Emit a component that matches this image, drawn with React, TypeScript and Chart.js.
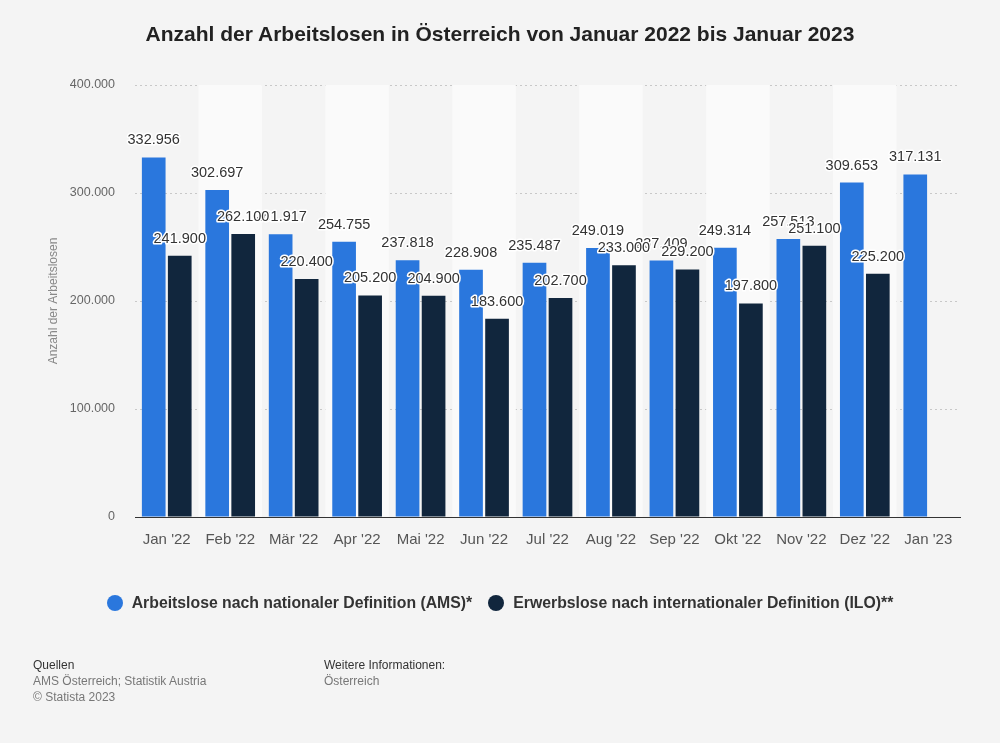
import React, { useEffect, useRef } from "react";
import { Chart, registerables } from "chart.js";

Chart.register(...registerables);

const categories = ["Jan '22", "Feb '22", "Mär '22", "Apr '22", "Mai '22", "Jun '22", "Jul '22", "Aug '22", "Sep '22", "Okt '22", "Nov '22", "Dez '22", "Jan '23"];
const amsValues = [332956, 302697, 261917, 254755, 237818, 228908, 235487, 249019, 237409, 249314, 257513, 309653, 317131];
const iloValues: (number | null)[] = [241900, 262100, 220400, 205200, 204900, 183600, 202700, 233000, 229200, 197800, 251100, 225200, null];
const seriesNames = ["Arbeitslose nach nationaler Definition (AMS)*", "Erwerbslose nach internationaler Definition (ILO)**"];
const seriesColors = ["#2a77dd", "#11263d"];
const yTicks = [0, 100000, 200000, 300000, 400000];

const FONT = "'Liberation Sans', Arial, sans-serif";
const fmt = (v: number) => v.toLocaleString("de-DE");

const bandsPlugin = {
  id: "bands",
  beforeDatasetsDraw(chart: any) {
    const { ctx, chartArea, scales } = chart;
    const xs = scales.x;
    ctx.save();
    ctx.fillStyle = "#fafafa";
    for (let i = 1; i < categories.length; i += 2) {
      const c = xs.getPixelForValue(i);
      const half = (xs.getPixelForValue(1) - xs.getPixelForValue(0)) / 2;
      ctx.fillRect(c - half, chartArea.top, half * 2, chartArea.bottom - chartArea.top);
    }
    ctx.restore();
  },
};

const labelsPlugin = {
  id: "valueLabels",
  afterDatasetsDraw(chart: any) {
    const { ctx } = chart;
    ctx.save();
    ctx.font = `14.5px ${FONT}`;
    ctx.textAlign = "center";
    ctx.textBaseline = "middle";
    ctx.lineJoin = "round";
    chart.data.datasets.forEach((ds: any, di: number) => {
      const meta = chart.getDatasetMeta(di);
      meta.data.forEach((el: any, i: number) => {
        const v = ds.data[i];
        if (v == null) return;
        const txt = fmt(v);
        ctx.lineWidth = 3;
        ctx.strokeStyle = "#ffffff";
        ctx.strokeText(txt, el.x, el.y - 17);
        ctx.fillStyle = "#333333";
        ctx.fillText(txt, el.x, el.y - 17);
      });
    });
    ctx.restore();
  },
};

export default function App() {
  const ref = useRef<HTMLCanvasElement>(null);
  useEffect(() => {
    const chart = new Chart(ref.current!, {
      type: "bar",
      data: {
        labels: categories,
        datasets: [
          { label: seriesNames[0], data: amsValues, backgroundColor: seriesColors[0], barPercentage: 0.91, categoryPercentage: 0.82 },
          { label: seriesNames[1], data: iloValues, backgroundColor: seriesColors[1], barPercentage: 0.91, categoryPercentage: 0.82 },
        ],
      },
      options: {
        animation: false,
        responsive: false,
        maintainAspectRatio: false,
        layout: { padding: { left: 46, right: 40, top: 85, bottom: 186 } },
        plugins: { legend: { display: false }, tooltip: { enabled: false } },
        scales: {
          x: {
            grid: { display: false, drawTicks: false },
            border: { display: true, color: "#333333", width: 1 },
            ticks: { color: "#555555", font: { family: FONT, size: 15 }, padding: 14 },
            afterFit: (s: any) => { s.height = 40; },
          },
          y: {
            min: 0,
            max: 400000,
            afterBuildTicks: (s: any) => { s.ticks = yTicks.map((v) => ({ value: v })); },
            grid: { color: "#c8c8c8", drawTicks: false, lineWidth: 1 },
            border: { display: false, dash: [2, 3] },
            ticks: { color: "#666666", font: { family: FONT, size: 12.5 }, padding: 20, callback: (v: any) => fmt(Number(v)) },
            title: { display: true, text: "Anzahl der Arbeitslosen", color: "#888888", font: { family: FONT, size: 12 }, padding: 0 },
            afterFit: (s: any) => { s.width = 89; },
          },
        },
      },
      plugins: [bandsPlugin, labelsPlugin],
    });
    return () => chart.destroy();
  }, []);

  return (
    <div style={{ position: "absolute", left: 0, top: 0, width: 1000, height: 743, background: "#f4f4f4", overflow: "hidden", fontFamily: FONT }}>
      <canvas ref={ref} width={1000} height={743} style={{ position: "absolute", left: 0, top: 0, width: 1000, height: 743 }} />
      <div style={{ position: "absolute", left: 0, top: 22, width: 1000, textAlign: "center", fontWeight: "bold", fontSize: 21, color: "#222" }}>
        Anzahl der Arbeitslosen in Österreich von Januar 2022 bis Januar 2023
      </div>
      <div style={{ position: "absolute", left: 0, top: 594, width: 1000, display: "flex", justifyContent: "center", alignItems: "center", fontWeight: "bold", fontSize: 15.8, color: "#333" }}>
        {seriesNames.map((n, i) => (
          <div key={n} style={{ display: "flex", alignItems: "center", marginRight: i === 0 ? 16 : 0 }}>
            <span style={{ width: 16, height: 16, borderRadius: "50%", background: seriesColors[i], display: "inline-block", marginRight: 9 }} />
            <span>{n}</span>
          </div>
        ))}
      </div>
      <div style={{ position: "absolute", left: 33, top: 657, fontSize: 12, lineHeight: "16px", color: "#777" }}>
        <div style={{ color: "#333" }}>Quellen</div>
        <div>AMS Österreich; Statistik Austria</div>
        <div>© Statista 2023</div>
      </div>
      <div style={{ position: "absolute", left: 324, top: 657, fontSize: 12, lineHeight: "16px", color: "#777" }}>
        <div style={{ color: "#333" }}>Weitere Informationen:</div>
        <div>Österreich</div>
      </div>
    </div>
  );
}
